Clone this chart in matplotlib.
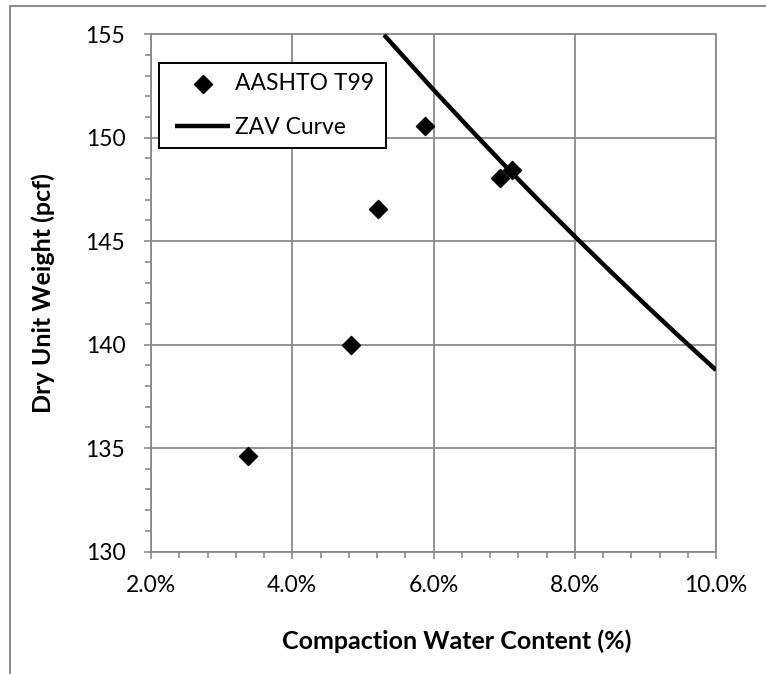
import matplotlib
matplotlib.use("Agg")
import matplotlib.pyplot as plt
from matplotlib.ticker import MultipleLocator, FuncFormatter
from matplotlib.lines import Line2D
from matplotlib.patches import Rectangle

plt.rcParams['font.family'] = ['Lato', 'DejaVu Sans']

# Data (water content in %, dry unit weight in pcf)
water_content = [3.37, 4.83, 5.22, 5.88, 6.94, 7.11]
dry_unit_weight = [134.6, 140.0, 146.55, 150.55, 148.05, 148.45]

# Zero-air-voids curve
zav_water = [5.3, 5.5, 6.0, 6.5, 7.0, 7.5, 8.0, 8.5, 9.0, 9.5, 10.0]
zav_weight = [154.97, 154.21, 152.32, 150.49, 148.69, 146.94, 145.23, 143.56, 141.93, 140.33, 138.77]

x_ticks = [2, 4, 6, 8, 10]
y_ticks = [130, 135, 140, 145, 150, 155]
series_labels = ["AASHTO T99", "ZAV Curve"]

W, H = 766, 674
L, R, T, B = 151, 716, 34.3, 551.5
fig = plt.figure(figsize=(W / 100, H / 100), dpi=100)
ax = fig.add_axes([L / W, 1 - B / H, (R - L) / W, (B - T) / H])

grid_c = '#8a8a8a'
ax.scatter(water_content, dry_unit_weight, marker='D', s=85, color='black',
           zorder=3, label=series_labels[0], clip_on=False)
ax.plot(zav_water, zav_weight, color='black', lw=3.2, zorder=4,
        label=series_labels[1], solid_capstyle='butt')

ax.set_xlim(2, 10)
ax.set_ylim(130, 155)
ax.set_xticks(x_ticks)
ax.set_yticks(y_ticks)
ax.xaxis.set_minor_locator(MultipleLocator(0.4))
ax.yaxis.set_minor_locator(MultipleLocator(1))
ax.xaxis.set_major_formatter(FuncFormatter(lambda v, p: f"{v:.1f}%"))
ax.grid(True, which='major', color=grid_c, lw=1.3)
ax.set_axisbelow(True)
for s in ax.spines.values():
    s.set_color(grid_c)
    s.set_linewidth(1.3)
ax.tick_params(which='major', direction='out', length=5, width=1.2, color=grid_c,
               labelsize=16.5, labelcolor='black')
ax.tick_params(axis='x', which='major', pad=12)
ax.tick_params(axis='y', which='major', pad=13.5)
ax.tick_params(which='minor', direction='out', length=4, width=1.2, color=grid_c)

ax.set_xlabel("Compaction Water Content (%)", fontsize=18, fontweight='bold')
ax.xaxis.set_label_coords((457 - L) / (R - L), (B - 641) / (B - T))
ax.xaxis.label.set_va('center')
ax.set_ylabel("Dry Unit Weight (pcf)", fontsize=18, fontweight='bold')
ax.yaxis.set_label_coords((43 - L) / (R - L), 0.5)
ax.yaxis.label.set_va('center')

# Legend with manual frame
leg = ax.legend(loc='upper left', bbox_to_anchor=(164 / W, 1 - 62 / H),
                bbox_transform=fig.transFigure, frameon=False, fontsize=16.5,
                handlelength=2.4, handletextpad=0.2, labelspacing=1.0, borderpad=0,
                scatterpoints=1)
leg.set_zorder(7)
frame = Rectangle((159.3 / W, 1 - 148.3 / H), (385.7 - 159.3) / W, (148.3 - 62.7) / H,
                  transform=fig.transFigure, facecolor='white', edgecolor='black',
                  lw=1.4, zorder=6, clip_on=False)
ax.add_patch(frame)

# Chart-area border (cropped)
fig.add_artist(Line2D([9.5 / W, 9.5 / W], [0, 1 - 5.5 / H], transform=fig.transFigure,
                      color='#8c8c8c', lw=1.5))
fig.add_artist(Line2D([9.5 / W, 1], [1 - 5.5 / H, 1 - 5.5 / H], transform=fig.transFigure,
                      color='#8c8c8c', lw=1.5))

fig.savefig("out.png", dpi=100)
